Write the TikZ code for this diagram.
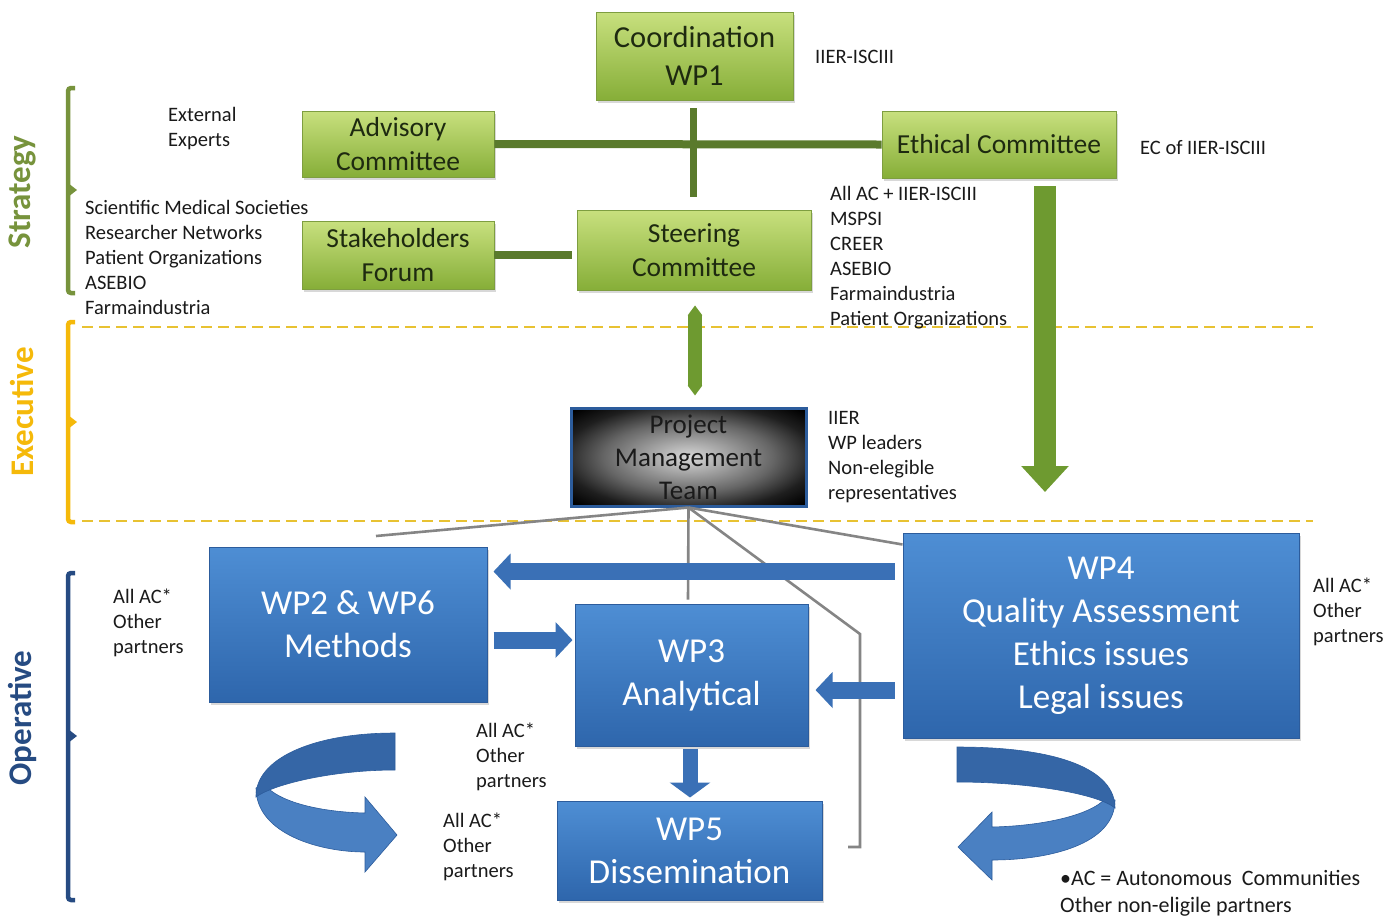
\documentclass[tikz,border=0pt]{standalone}
\usepackage{fontspec}
\setmainfont{Carlito}
\usetikzlibrary{arrows.meta,shadows,calc}
\definecolor{gtop}{HTML}{C8E07E}
\definecolor{gbot}{HTML}{86AE38}
\definecolor{gborder}{HTML}{7E9E40}
\definecolor{gtext}{HTML}{1E2A10}
\definecolor{gbar}{HTML}{5A7A2C}
\definecolor{garrow}{HTML}{6E9A30}
\definecolor{btop}{HTML}{4E8ED4}
\definecolor{bbot}{HTML}{2E66AC}
\definecolor{bborder}{HTML}{2C5C9C}
\definecolor{barrow}{HTML}{3A70B6}
\definecolor{bdark}{HTML}{3566A6}
\definecolor{blight}{HTML}{4A80C2}
\definecolor{dashy}{HTML}{E8C232}
\definecolor{stratc}{HTML}{77933C}
\definecolor{execc}{HTML}{F5B90A}
\definecolor{operc}{HTML}{264B82}
\definecolor{grayl}{HTML}{858585}
\definecolor{txt}{HTML}{1A1A1A}
\pgfdeclareradialshading{pmtshade}{\pgfpoint{0bp}{0bp}}{color(0bp)=(white!85!black); color(8bp)=(white!65!black); color(18bp)=(black!60); color(27bp)=(black!88); color(34bp)=(black); color(70bp)=(black)}
\begin{document}
\begin{tikzpicture}[x=1pt,y=-1pt,
  shad/.style={drop shadow={shadow xshift=2pt,shadow yshift=-3pt,opacity=.3}},
  gbox/.style={draw=gborder, line width=0.8pt, top color=gtop, bottom color=gbot, text=gtext, align=center, inner sep=0pt, shad, font=\fontsize{27.5}{34}\selectfont},
  bbox/.style={draw=bborder, line width=1pt, top color=btop, bottom color=bbot, text=white, align=center, inner sep=0pt, shad, font=\fontsize{35}{43}\selectfont},
  small/.style={font=\fontsize{20.5}{25}\selectfont, text=txt, align=left, inner sep=0pt, anchor=west},
  bar/.style={draw=gbar, line width=8pt},
  garr/.style={draw=garrow, line width=22pt, -{Triangle[length=26pt,width=46pt]}},
  gdbl/.style={draw=garrow, line width=14pt, {Triangle[length=10pt,width=14pt]}-{Triangle[length=10pt,width=14pt]}},
  barr/.style={draw=barrow, line width=17pt, -{Triangle[length=17pt,width=35pt]}},
  grayline/.style={draw=grayl, line width=2.6pt},
  dashl/.style={draw=dashy, line width=1.6pt, dash pattern=on 11pt off 6pt},
  lbl/.style={rotate=90, font=\fontsize{33}{33}\bfseries\selectfont},
  brace/.style={line width=4.5pt, rounded corners=3pt}
]
\useasboundingbox[fill=white] (0,0) rectangle (1397,922);

% dashed separators
\draw[dashl] (82,327) -- (1313,327);
\draw[dashl] (82,521) -- (1313,521);

% side labels and braces
\node[lbl, text=stratc] (lstrat) at (22,192) {Strategy};
\node[lbl, text=execc] (lexec) at (22,412) {Executive};
\node[lbl, text=operc] (loper) at (22,718) {Operative};
\draw[brace, draw=stratc] (75,88) -- (68,88) -- (68,293) -- (75,293);
\fill[stratc] (68,183) -- (77,190) -- (68,197) -- cycle;
\draw[brace, draw=execc] (75,322) -- (68,322) -- (68,522) -- (75,522);
\fill[execc] (68,415) -- (77,422) -- (68,429) -- cycle;
\draw[brace, draw=operc] (75,573) -- (68,573) -- (68,900) -- (75,900);
\fill[operc] (68,729) -- (77,736) -- (68,743) -- cycle;

% green boxes
\node[gbox, minimum width=197pt, minimum height=88pt, font=\fontsize{30.5}{38}\selectfont] (coord) at (694.5,56) {Coordination\\WP1};
\node[gbox, minimum width=192pt, minimum height=66pt] (adv) at (398,144) {Advisory\\Committee};
\node[gbox, minimum width=234pt, minimum height=67pt] (eth) at (999,144.5) {Ethical Committee};
\node[gbox, minimum width=192pt, minimum height=68pt] (stake) at (398,255) {Stakeholders\\Forum};
\node[gbox, minimum width=234pt, minimum height=80pt] (steer) at (694,250) {Steering\\Committee};

% green connectors
\draw[bar] (adv.east) -- (eth.west);
\draw[bar, line width=7pt] ($(coord.south)+(-1.5,8)$) -- ($(steer.north)+(-1,-13)$);
\draw[bar] (stake.east) -- ($(steer.west)+(-5,5)$);

% project management team
\node[draw=bborder, line width=3pt, shading=pmtshade, minimum width=235pt, minimum height=98pt, align=center, inner sep=0pt, text=txt, font=\fontsize{27}{33}\selectfont] (pmt) at (688.5,457) {Project\\Management\\Team};

\draw[gdbl] ($(steer.south)+(1,15)$) -- ($(pmt.north)+(6.5,-11)$);
\coordinate (ecend) at (1045,492);
\draw[garr] ($(eth.south)+(46,8)$) -- (ecend);

% blue boxes
\node[bbox, minimum width=278pt, minimum height=155pt] (wp2) at (348,624.5) {WP2 \& WP6\\Methods};
\node[bbox, minimum width=233pt, minimum height=142pt] (wp3) at (691.5,675) {WP3\\Analytical};
\node[bbox, minimum width=396pt, minimum height=205pt] (wp4) at (1101,635.5) {WP4\\Quality Assessment\\Ethics issues\\Legal issues};
\node[bbox, minimum width=265pt, minimum height=99pt] (wp5) at (689.5,850.5) {WP5\\Dissemination};

% gray lines from PMT
\coordinate (gl1) at (376,536);
\coordinate (gl2) at (860,634);
\coordinate (gl3) at (860,847);
\coordinate (gl4) at (848,847);
\draw[grayline] (pmt.south) -- (gl1);
\draw[grayline] (pmt.south) -- ($(wp3.north)+(-3.5,-4)$);
\draw[grayline] (pmt.south) -- ($(wp4.north west)+(0,12)$);
\draw[grayline] (pmt.south) -- (gl2) -- (gl3) -- (gl4);

% blue arrows
\draw[barr] ($(wp4.north west)+(-8,39)$) -- ($(wp2.north east)+(6,25)$);
\draw[barr] ($(wp2.east)+(6,15.5)$) -- ($(wp3.west)+(-2,-35)$);
\draw[barr] ($(wp4.west)+(-8,54.5)$) -- ($(wp3.east)+(7,15)$);
\draw[barr, line width=15pt, -{Triangle[length=15pt,width=40pt]}] ($(wp3.south)+(-1.5,2)$) -- ($(wp5.north)+(0.5,-3)$);

% curved arrows (left)
\filldraw[fill=blight, draw=bborder, line width=0.6pt] (256,788) .. controls (256,834) and (320,852) .. (365,852) -- (365,872) -- (397,835) -- (365,797) -- (365,813) .. controls (320,812) and (278,802) .. (264,784) -- cycle;
\filldraw[fill=bdark, draw=bborder, line width=0.6pt] (395,733) .. controls (310,733) and (255,760) .. (256,797) .. controls (272,785) and (330,770) .. (395,770) -- cycle;
% curved arrows (right)
\filldraw[fill=blight, draw=bborder, line width=0.6pt] (1115,800) .. controls (1115,844) and (1050,860) .. (992,860) -- (992,880) -- (958,847) -- (992,812) -- (992,827) .. controls (1040,826) and (1090,816) .. (1106,798) -- cycle;
\filldraw[fill=bdark, draw=bborder, line width=0.6pt] (957,747) .. controls (1060,747) and (1115,770) .. (1115,808) .. controls (1098,794) and (1030,782) .. (957,782) -- cycle;

% text annotations
\node[small] (iier) at (815,57) {IIER-ISCIII};
\node[small] (ecof) at (1140,148) {EC of IIER-ISCIII};
\node[small] (ext) at (168,129) {External\\Experts};
\node[small] (soc) at (85,257) {Scientific Medical Societies\\Researcher Networks\\Patient Organizations\\ASEBIO\\Farmaindustria};
\node[small] (steerl) at (830,257.5) {All AC + IIER-ISCIII\\MSPSI\\CREER\\ASEBIO\\Farmaindustria\\Patient Organizations};
\node[small] (pmtl) at (828,457.5) {IIER\\WP leaders\\Non-elegible\\representatives};
\node[small] (wp2l) at (113,623) {All AC*\\Other\\partners};
\node[small] (wp4l) at (1313,612) {All AC*\\Other\\partners};
\node[small] (wp3l) at (476,757) {All AC*\\Other\\partners};
\node[small] (wp5l) at (443,847) {All AC*\\Other\\partners};
\node[small, font=\fontsize{22}{27}\selectfont] (foot) at (1060,893.5) {\textbullet AC = Autonomous\ \ Communities\\Other non-eligile partners};
\end{tikzpicture}
\end{document}
